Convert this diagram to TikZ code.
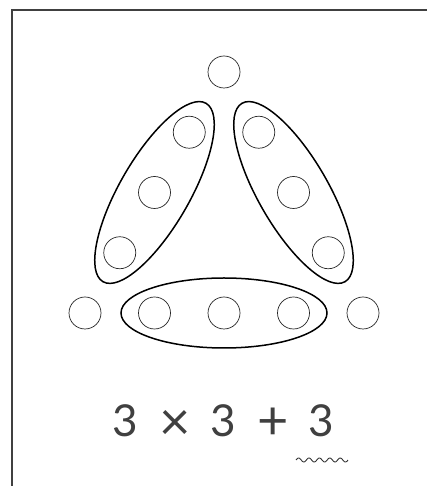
\documentclass[tikz,border=0pt]{standalone}
\usepackage{fontspec}
\setmainfont{Lato}
\usetikzlibrary{shapes.geometric}
\tikzset{
  dot/.style={circle, draw=black!85, line width=0.7pt, minimum size=32pt, inner sep=0pt},
  group/.style={ellipse, draw=black, line width=1.5pt, minimum width=206pt, minimum height=70pt, inner sep=0pt},
  expr/.style={inner sep=0pt, anchor=base, text=black!75, font=\fontsize{44}{50}\selectfont},
  oper/.style={inner sep=0pt, anchor=center, text=black!75, font=\fontsize{54}{60}\selectfont},
  frameline/.style={draw=black!75, line width=1.2pt}
}
\begin{document}
\begin{tikzpicture}[x=1pt,y=1pt]
\useasboundingbox (0,0) rectangle (427,486);
\fill[white] (0,0) rectangle (427,486);
% frame (top and left edges)
\coordinate (fTL) at (12,476);
\coordinate (fTR) at (427,476);
\coordinate (fBL) at (12,0);
\draw[frameline] (fBL) -- (fTL) -- (fTR);
% dots
\node[dot] (top) at (224,414) {};
\node[dot] (l1) at (189.25,353.75) {};
\node[dot] (l2) at (154.5,293.5) {};
\node[dot] (l3) at (119.75,233.25) {};
\node[dot] (r1) at (258.75,353.75) {};
\node[dot] (r2) at (293.5,293.5) {};
\node[dot] (r3) at (328.25,233.25) {};
\node[dot] (bl) at (85,173) {};
\node[dot] (b1) at (154.5,173) {};
\node[dot] (b2) at (224,173) {};
\node[dot] (b3) at (293.5,173) {};
\node[dot] (br) at (363,173) {};
% groups
\node[group, rotate=60] (gl) at (154.5,293.5) {};
\node[group, rotate=-60] (gr) at (293.5,293.5) {};
\node[group] (gb) at (224,173) {};
% expression
\node[expr] (n1) at (125,49) {3};
\node[oper] (times) at (175,61) {×};
\node[expr] (n2) at (223.5,49) {3};
\node[oper] (plus) at (273,62) {+};
\node[expr] (n3) at (321.5,49) {3};
\draw[black!80, line width=0.9pt] plot[domain=0:52, samples=100] ({296+\x}, {26+2*sin(\x*34.6)});
\end{tikzpicture}
\end{document}
